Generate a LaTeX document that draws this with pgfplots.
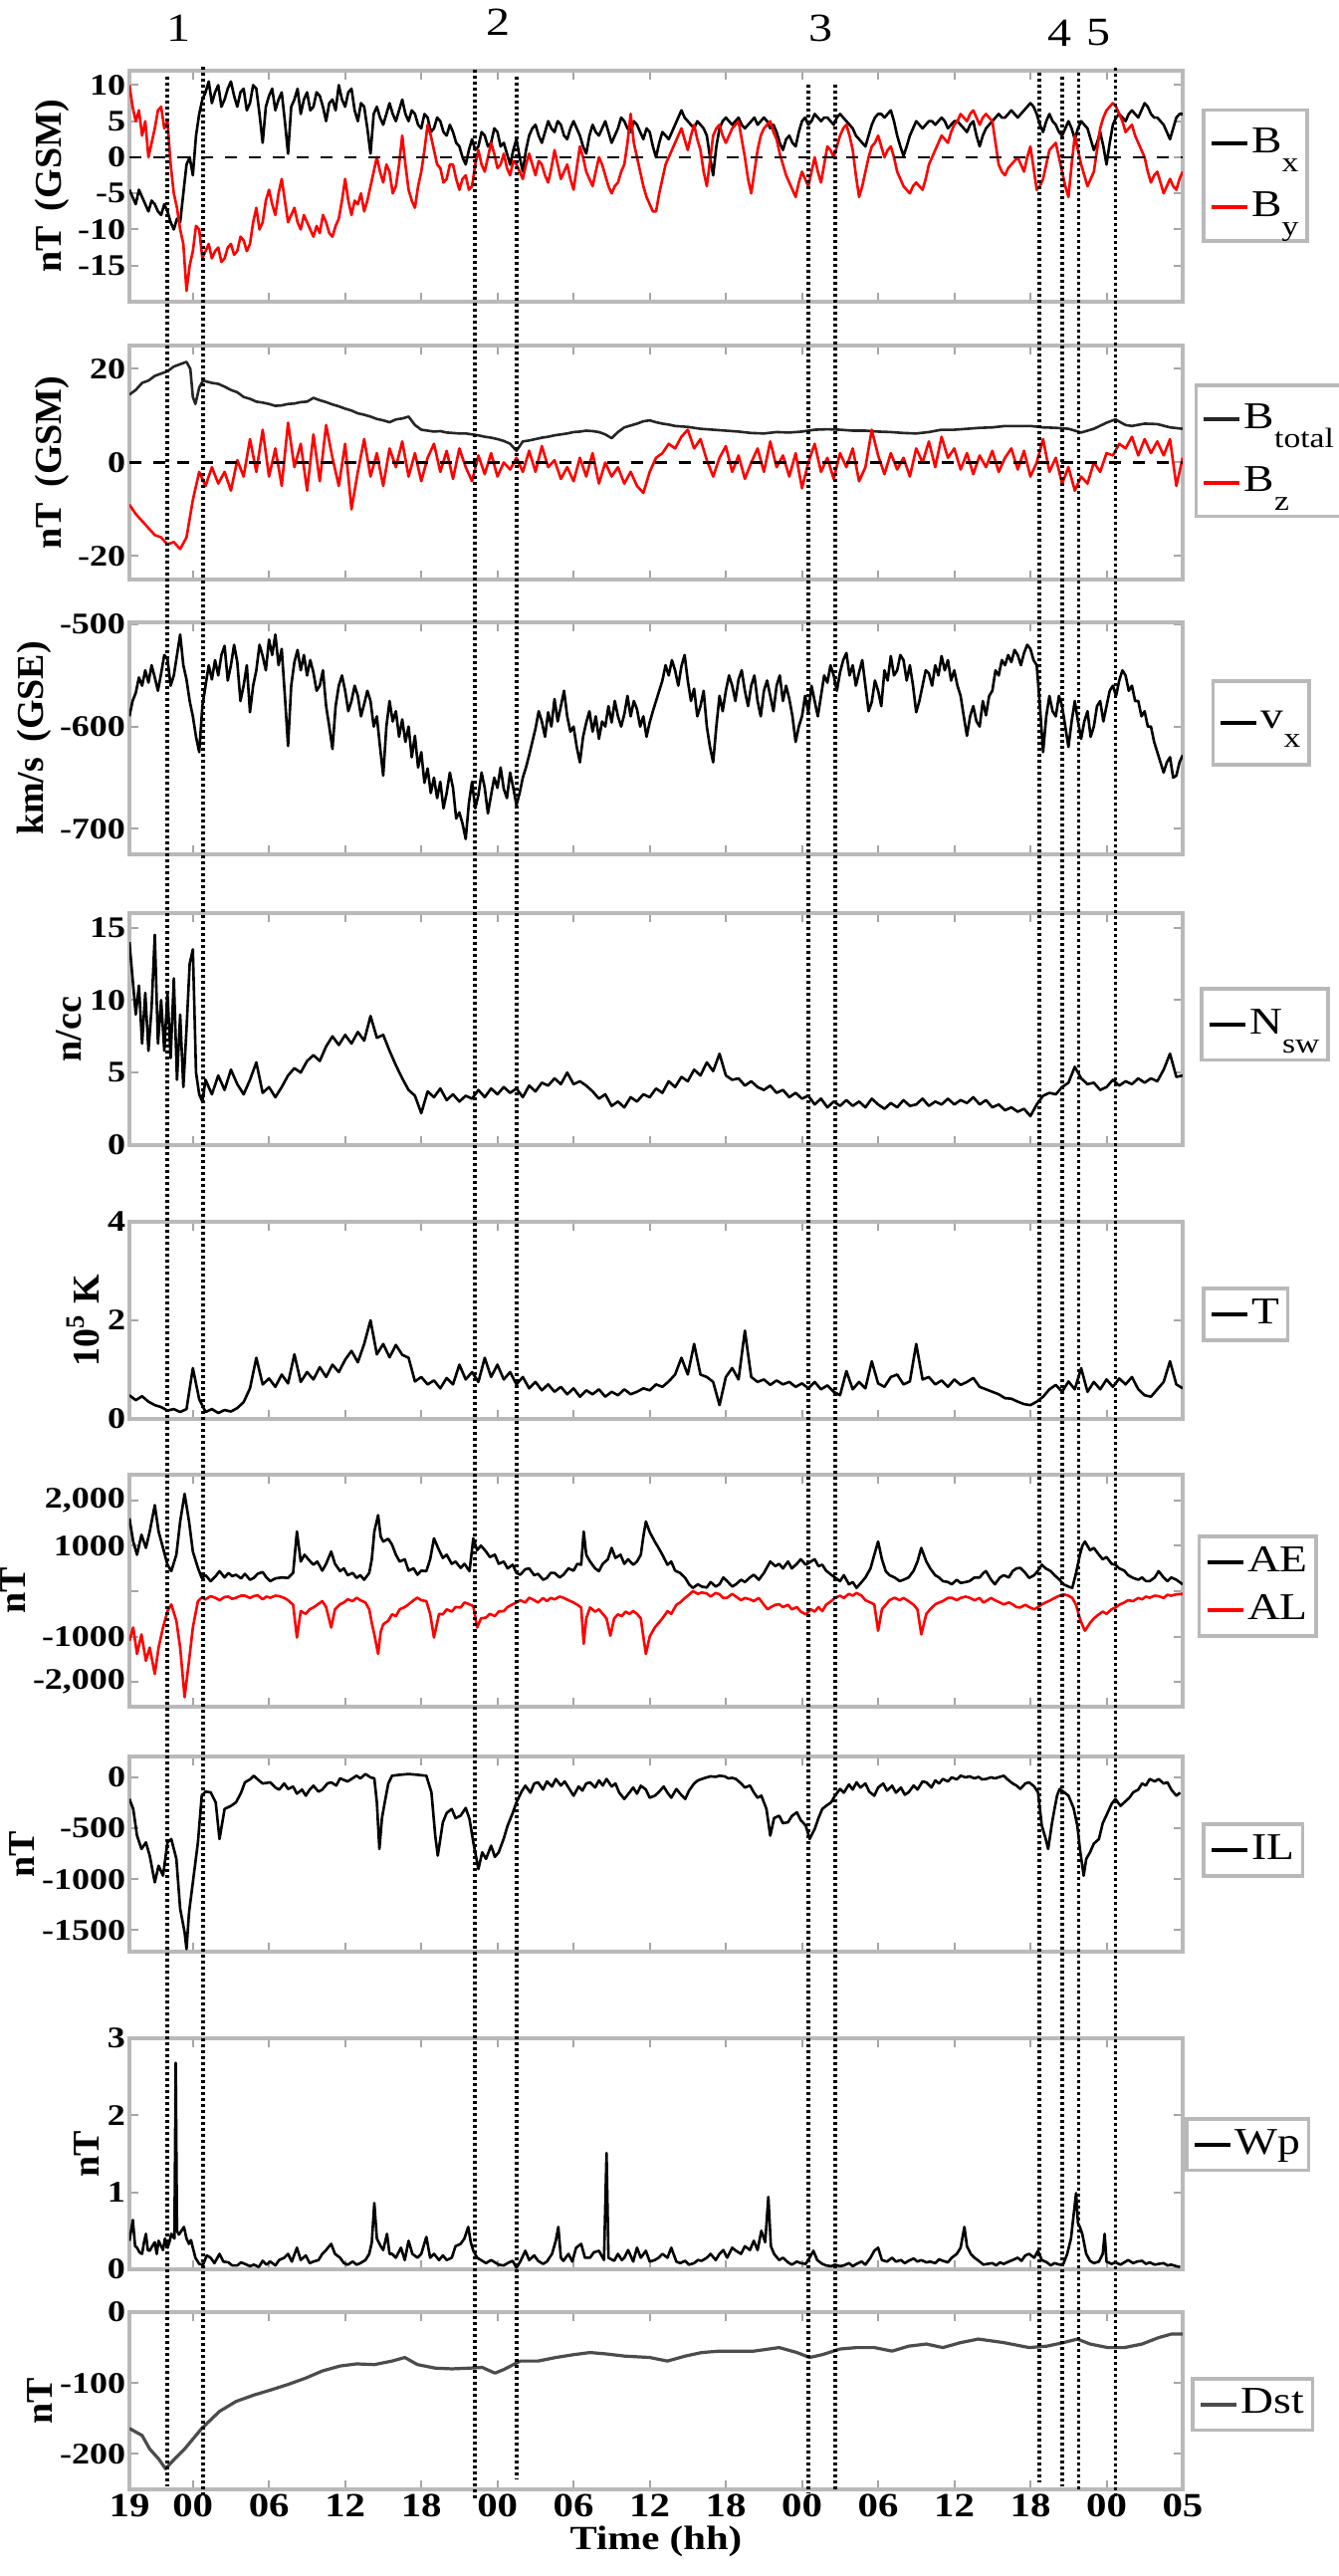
\documentclass[border=0pt]{standalone}
\usepackage{fontspec}
\setmainfont{Liberation Serif}[FakeStretch=1.2]
\newfontfamily\ylabfont{Liberation Serif}
\usepackage{pgfplots}
\usepackage{pgfplotstable}
\pgfplotsset{compat=1.18}
\newcommand{\lsub}[1]{\raisebox{-0.5em}{\fontsize{7}{7}\selectfont #1}}

\pgfplotstableread[row sep=\\]{
t bx by\\
0 -4.5 10\\ 0.25 -5.5 7\\ 0.5 -6.5 5\\ 0.75 -4.5 6.5\\ 1 -5.5 3\\ 1.25 -6.5 5\\ 1.5 -7.5 0\\ 1.75 -6 2\\ 2 -6.5 4\\ 2.25 -7.5 6.5\\ 2.5 -8 7\\ 2.75 -6.5 4\\
3 -7.5 5\\ 3.25 -9 -1\\ 3.5 -10 -5\\ 3.75 -8.5 -7\\ 4 -9 -10\\ 4.25 -5 -12\\ 4.5 -1 -18.5\\ 4.75 0 -15\\ 5 -2.5 -13\\ 5.25 3 -9.5\\ 5.5 6 -10\\ 5.75 8 -14\\
6 9 -13\\ 6.25 10.5 -12\\ 6.5 7.5 -14\\ 6.75 9 -13\\ 7 10 -12.5\\ 7.25 7 -14.5\\ 7.5 8 -14\\ 7.75 9.5 -12.5\\ 8 10.5 -12\\ 8.25 8.5 -13.5\\ 8.5 7 -13\\ 8.75 9 -11\\
9 9.5 -11.5\\ 9.25 6.5 -13\\ 9.5 7.5 -12\\ 9.75 10 -9\\ 10 9.5 -7\\ 10.25 6 -10\\ 10.5 2 -9\\ 10.75 7 -6\\ 11 8.5 -4.5\\ 11.25 9.5 -6.5\\ 11.5 6.5 -8\\ 11.75 8 -5\\
12 9 -3\\ 12.25 5 -6\\ 12.5 0.5 -9\\ 12.75 7 -8\\ 13 8 -7\\ 13.25 9.5 -9\\ 13.5 6 -10\\ 13.75 8 -8\\ 14 9 -9\\ 14.25 6.5 -10\\ 14.5 7 -11\\ 14.75 9 -9.5\\
15 8.5 -10.5\\ 15.25 7 -8\\ 15.5 5 -9\\ 15.75 7.5 -10.5\\ 16 8 -11\\ 16.25 6.5 -9.5\\ 16.5 10 -8.5\\ 16.75 8 -6\\ 17 7 -3\\ 17.25 9 -6\\ 17.5 9.5 -8\\ 17.75 6.5 -6\\
18 5 -6.5\\ 18.25 7.5 -5\\ 18.5 7 -7.5\\ 18.75 4 -6\\ 19 0.5 -4\\ 19.25 6 -2\\ 19.5 7 0\\ 19.75 5.5 -2\\ 20 4.5 -3.5\\ 20.25 6 -1\\ 20.5 7.5 -2\\ 20.75 6 -5\\
21 5 -4\\ 21.25 6.5 -1\\ 21.5 8 3\\ 21.75 6 -1\\ 22 5 -4.5\\ 22.25 6.5 -6\\ 22.5 6 -7\\ 22.75 4.5 -4\\ 23 4 -2\\ 23.25 6 1\\ 23.5 5.5 4.5\\ 23.75 3.5 3\\
24 4 1\\ 24.25 5.5 -1\\ 24.5 5 -1.5\\ 24.75 3.5 -3.5\\ 25 3 -3\\ 25.25 4.5 -1\\ 25.5 3.5 -1\\ 25.75 2 -3\\ 26 1.5 -4.5\\ 26.25 0 -3\\ 26.5 -1 -2.5\\ 26.75 1 -4.5\\
27 2.5 -4\\ 27.25 1 -1\\ 27.5 1.5 1\\ 27.75 3.5 -1\\ 28 3 -2\\ 28.25 1.5 0\\ 28.5 2 2\\ 28.75 4 0.5\\ 29 3.5 -1.5\\ 29.25 1.5 -1\\ 29.5 2 0.5\\ 29.75 0.5 -1.5\\
30 -1 -2.5\\ 30.25 1 -0.5\\ 30.5 2.5 -1\\ 30.75 0 -2\\ 31 -2 -3\\ 31.25 1 -1\\ 31.5 3 0.5\\ 31.75 4 -1\\ 32 4.5 -2.5\\ 32.25 3 -0.5\\ 32.5 2 -1\\ 32.75 3.5 -2.5\\
33 5 -3.5\\ 33.25 4 -1.5\\ 33.5 3.5 1\\ 33.75 5 -1\\ 34 4.5 -3\\ 34.25 3 -2\\ 34.5 2.5 -1\\ 34.75 4 -3\\ 35 5 -4.5\\ 35.25 4 -1.5\\ 35.5 3 1.5\\ 35.75 1.5 0\\
36 0.5 -2\\ 36.25 3 -3\\ 36.5 4.5 -4\\ 36.75 3.5 -2\\ 37 3 0\\ 37.25 4 -1\\ 37.5 5 -2.5\\ 37.75 3.5 -4\\ 38 2 -5\\ 38.25 3 -4\\ 38.5 4 -3.5\\ 38.75 5.5 -2\\
39 5 -1\\ 39.25 4 2\\ 39.5 3.5 6\\ 39.75 5 2\\ 40 4.5 0\\ 40.25 3.5 -2\\ 40.5 2.5 -4\\ 40.75 4 -5.5\\ 41 3.5 -6.5\\ 41.25 1.5 -7.5\\ 41.5 0 -7.5\\ 41.75 2 -5\\
42 3.5 -3\\ 42.25 3 -1\\ 42.5 2.5 0\\ 42.75 3.5 1\\ 43 4.5 2\\ 43.25 5.5 3\\ 43.5 6.5 4\\ 43.75 5.5 2.5\\ 44 5 1\\ 44.25 4.5 3\\ 44.5 4 4.5\\ 44.75 5 2.5\\
45 4.5 1\\ 45.25 4 -2\\ 45.5 3 -4\\ 45.75 0 -0.5\\ 46 -2.5 3\\ 46.25 1.5 4\\ 46.5 4 4.5\\ 46.75 5 3\\ 47 5.5 2\\ 47.25 5 3\\ 47.5 4.5 4\\ 47.75 5 4.5\\
48 5.5 5\\ 48.25 4.5 2.5\\ 48.5 4 0\\ 48.75 4.5 -3\\ 49 5 -5\\ 49.25 5.5 -2\\ 49.5 4.5 1\\ 49.75 5 3\\ 50 5.5 4\\ 50.25 5 4.5\\ 50.5 4 5\\ 50.75 4.5 3.5\\
51 3.5 2.5\\ 51.25 2 0.5\\ 51.5 1 -1\\ 51.75 2.5 -2.5\\ 52 3 -3.5\\ 52.25 2 -4.5\\ 52.5 1.5 -5.5\\ 52.75 3.5 -3.5\\ 53 5 -2\\ 53.25 5.5 -3\\ 53.5 4.5 -4\\ 53.75 5 -2\\
54 6 0\\ 54.25 5.5 -2\\ 54.5 5 -3.5\\ 54.75 5.5 -1\\ 55 5.5 1.5\\ 55.25 5 1\\ 55.5 4.5 0\\ 55.75 5.5 1.5\\ 56 6 3\\ 56.25 5.5 4\\ 56.5 5 4.5\\ 56.75 4.5 3\\
57 4 1\\ 57.25 3 -2.5\\ 57.5 2.5 -5.5\\ 57.75 2 -4\\ 58 1.5 -2\\ 58.25 3 0\\ 58.5 4.5 1.5\\ 58.75 5.5 2\\ 59 6 3\\ 59.25 6 1.5\\ 59.5 5.5 0\\ 59.75 6 1\\
60 6.5 1.5\\ 60.25 5 0\\ 60.5 3 -2\\ 60.75 1.5 -3\\ 61 0.2 -4\\ 61.25 1.5 -4.5\\ 61.5 3 -5\\ 61.75 4 -4\\ 62 5 -3.5\\ 62.25 4.5 -4\\ 62.5 4 -4.5\\ 62.75 4.5 -3\\
63 5 -1\\ 63.25 5 0\\ 63.5 4.5 1\\ 63.75 5 2\\ 64 5.5 3\\ 64.25 5 2.5\\ 64.5 4 2\\ 64.75 4.5 3.5\\ 65 5 4.5\\ 65.25 5 5\\ 65.5 4.5 6\\ 65.75 4 5.5\\
66 3.5 5\\ 66.25 4.5 6\\ 66.5 5 6.5\\ 66.75 3 5.5\\ 67 1.5 4.5\\ 67.25 3 5.5\\ 67.5 4 6\\ 67.75 4.5 5.5\\ 68 5 5\\ 68.25 5.5 2\\ 68.5 6 -1\\ 68.75 5.5 -2\\
69 5.5 -2.5\\ 69.25 6 -1.5\\ 69.5 6.5 -1\\ 69.75 6 -0.5\\ 70 5.5 0\\ 70.25 6 -1\\ 70.5 6.5 -2\\ 70.75 7 0\\ 71 7.5 1.5\\ 71.25 7 -1.5\\ 71.5 6 -4.5\\ 71.75 4.5 -4\\
72 3.5 -3\\ 72.25 5 -1\\ 72.5 6 1\\ 72.75 5 1.5\\ 73 4.5 2\\ 73.25 3.5 0\\ 73.5 3 -2\\ 73.75 4 -4\\ 74 5 -5.5\\ 74.25 4 -1\\ 74.5 2.5 3\\ 74.75 4 1\\
75 5 -1\\ 75.25 4.5 -2.5\\ 75.5 4 -4\\ 75.75 2.5 -3\\ 76 1 -2\\ 76.25 2 1\\ 76.5 3.5 4\\ 76.75 1.5 5.5\\ 77 -1 6.5\\ 77.25 2 7\\ 77.5 4.5 7.5\\ 77.75 5.5 7\\
78 6 6\\ 78.25 5.5 5\\ 78.5 5 3.5\\ 78.75 6 4\\ 79 6.5 4.5\\ 79.25 6 3\\ 79.5 5.5 2\\ 79.75 6.5 1\\ 80 7.5 0\\ 80.25 7 -2\\ 80.5 6 -3.5\\ 80.75 5.5 -2.5\\
81 5.5 -2\\ 81.25 5 -3.5\\ 81.5 4.5 -5\\ 81.75 3.5 -4\\ 82 2.5 -3\\ 82.25 4 -4\\ 82.5 5.5 -4.5\\ 82.75 6 -3\\ 83 6 -2\\
}\tabA

\pgfplotstableread[row sep=\\]{
t v\\
0 -9\\ 0.5 -11\\ 1 -12.5\\ 1.5 -14\\ 2 -15.5\\ 2.5 -16\\ 3 -17.5\\ 3.5 -17\\ 4 -18.5\\ 4.5 -16\\ 5 -8\\ 5.5 -2\\
6 -5\\ 6.5 -1\\ 7 -4.5\\ 7.5 -2\\ 8 -6\\ 8.5 0.5\\ 9 -3\\ 9.5 5\\ 10 -2\\ 10.5 7\\ 11 -3\\ 11.5 3\\
12 -5\\ 12.5 8.5\\ 13 -1\\ 13.5 4\\ 14 -6\\ 14.5 6\\ 15 -4\\ 15.5 8\\ 16 1\\ 16.5 -5\\ 17 4\\ 17.5 -10\\
18 -2\\ 18.5 5\\ 19 -3\\ 19.5 2\\ 20 -5\\ 20.5 3\\ 21 -1\\ 21.5 4.5\\ 22 -3\\ 22.5 2\\ 23 -4\\ 23.5 1\\
24 4\\ 24.5 -2\\ 25 2.5\\ 25.5 -3.5\\ 26 3\\ 26.5 -1\\ 27 -4\\ 27.5 1.5\\ 28 -2.5\\ 28.5 2\\ 29 -3\\ 29.5 0\\
30 -1.5\\ 30.5 1\\ 31 -2\\ 31.5 2.5\\ 32 -2\\ 32.5 3.5\\ 33 -1\\ 33.5 0.5\\ 34 -3.5\\ 34.5 -1\\ 35 -4\\ 35.5 1\\
36 -3\\ 36.5 2\\ 37 -4.5\\ 37.5 0\\ 38 -3\\ 38.5 -1\\ 39 -4.5\\ 39.5 -2\\ 40 -5\\ 40.5 -6.5\\ 41 -2\\ 41.5 1\\
42 2\\ 42.5 4\\ 43 3\\ 43.5 5.5\\ 44 7\\ 44.5 3\\ 45 5\\ 45.5 0.5\\ 46 -3\\ 46.5 1\\ 47 3.5\\ 47.5 -2\\
48 1.5\\ 48.5 -3.5\\ 49 0\\ 49.5 3\\ 50 -2\\ 50.5 4.5\\ 51 -1\\ 51.5 1.5\\ 52 -3\\ 52.5 2\\ 53 -5.5\\ 53.5 0\\
54 4\\ 54.5 -2\\ 55 1\\ 55.5 -3.5\\ 56 2\\ 56.5 -1\\ 57 3\\ 57.5 -4\\ 58 -1\\ 58.5 7\\ 59 1.5\\ 59.5 -2.5\\
60 2\\ 60.5 -1.5\\ 61 1\\ 61.5 -3\\ 62 3\\ 62.5 0\\ 63 4.5\\ 63.5 -1\\ 64 5.5\\ 64.5 1\\ 65 3\\ 65.5 -1.5\\
66 2\\ 66.5 -2.5\\ 67 1.5\\ 67.5 -1\\ 68 2.5\\ 68.5 -2\\ 69 1\\ 69.5 3\\ 70 -1.5\\ 70.5 2.5\\ 71 -3\\ 71.5 0\\
72 5\\ 72.5 -2\\ 73 1\\ 73.5 -4.5\\ 74 -1\\ 74.5 -6\\ 75 -3\\ 75.5 -4.5\\ 76 0\\ 76.5 -2\\ 77 2\\ 77.5 1.5\\
78 4\\ 78.5 3\\ 79 5.5\\ 79.5 1.5\\ 80 5\\ 80.5 2\\ 81 4.5\\ 81.5 1.5\\ 82 5\\ 82.5 -5\\ 83 1\\
}\tabBz

\pgfplotstableread[row sep=\\]{
t v\\
0 14.5\\ 0.5 15.5\\ 1 17\\ 1.5 17.5\\ 2 18.5\\ 2.5 19\\ 3 19.5\\ 3.5 20.5\\ 4 21\\ 4.5 21.5\\ 4.8 20\\ 5.0 14\\ 5.2 12.5\\ 5.5 16\\ 5.8 17.5\\
6.5 17\\ 7 16.8\\ 7.5 16.2\\ 8 15.5\\ 8.5 15\\ 9 14\\ 9.5 13.6\\ 10 13\\ 10.5 12.8\\ 11 12.5\\ 11.5 12.1\\ 12 12.2\\ 12.5 12.5\\ 13 12.6\\ 13.5 12.9\\ 14 13\\ 14.5 13.8\\ 15 13.3\\ 15.5 12.9\\ 16 12.4\\ 16.5 12\\ 17 11.5\\ 17.5 11.1\\ 18 10.5\\ 18.5 10.2\\ 19 9.8\\ 19.5 9.3\\ 20 9\\ 20.5 8.6\\ 21 9.2\\ 21.5 9.4\\ 22 9.8\\ 22.5 8\\ 23 7\\ 23.5 6.8\\ 24 6.6\\ 24.5 6.7\\ 25 6.4\\ 25.5 6.3\\ 26 6.2\\ 26.5 6.2\\ 27 6\\ 27.5 5.8\\ 28 5.5\\ 28.5 5.3\\ 29 5\\ 29.5 4.6\\ 30 4\\ 30.5 2.5\\ 31 4.5\\ 31.5 4.7\\ 32 5\\ 32.5 5.3\\ 33 5.5\\ 33.5 5.8\\ 34 6\\ 34.5 6.2\\ 35 6.5\\ 35.5 6.6\\ 36 6.8\\ 36.5 6.7\\ 37 6.5\\ 37.5 6\\ 38 5.2\\ 38.5 6.5\\ 39 7.5\\ 39.5 7.9\\ 40 8.3\\ 40.5 8.8\\ 41 9\\ 41.5 8.6\\ 42 8.3\\ 42.5 8.1\\ 43 7.8\\ 43.5 7.7\\ 44 7.6\\ 44.5 7.4\\ 45 7.2\\ 45.5 7.1\\ 46 7\\ 47 6.8\\ 48 6.6\\ 49 6.3\\ 50 6.2\\ 51 6.5\\ 52 6.4\\ 53 6.6\\ 54 7\\ 55 7.1\\ 56 7\\ 57 6.8\\ 58 6.8\\ 59 6.6\\ 60 6.5\\ 61 6.3\\ 62 6.2\\ 63 6.5\\ 64 7\\ 65 7\\ 66 7.2\\ 67 7.4\\ 68 7.5\\ 69 7.8\\ 70 7.8\\ 71 7.8\\ 72 7.5\\ 73 7.4\\ 74 7.2\\ 75 6.4\\ 76 7.2\\ 77 8.5\\ 77.7 9.2\\ 78.5 8\\ 79 7.8\\ 80 8.3\\ 81 8.2\\ 82 7.5\\ 83 7.2\\
}\tabBt

\pgfplotstableread[row sep=\\]{
t v\\
0 -590\\ 0.25 -575\\ 0.5 -567\\ 0.75 -552\\ 1 -560\\ 1.25 -545\\ 1.5 -557\\ 1.75 -540\\ 2 -552\\ 2.25 -565\\ 2.5 -548\\ 2.75 -530\\
3 -534\\ 3.25 -560\\ 3.5 -550\\ 3.75 -530\\ 4 -510\\ 4.25 -540\\ 4.5 -554\\ 4.75 -575\\ 5 -590\\ 5.25 -610\\ 5.5 -625\\ 5.75 -580\\
6 -560\\ 6.25 -540\\ 6.5 -554\\ 6.75 -535\\ 7 -550\\ 7.25 -530\\ 7.5 -521\\ 7.75 -555\\ 8 -540\\ 8.25 -520\\ 8.5 -537\\ 8.75 -575\\
9 -560\\ 9.25 -540\\ 9.5 -586\\ 9.75 -560\\ 10 -545\\ 10.25 -520\\ 10.5 -531\\ 10.75 -545\\ 11 -515\\ 11.25 -530\\ 11.5 -510\\ 11.75 -540\\
12 -524\\ 12.25 -570\\ 12.5 -619\\ 12.75 -560\\ 13 -537\\ 13.25 -525\\ 13.5 -545\\ 13.75 -530\\ 14 -550\\ 14.25 -535\\ 14.5 -547\\ 14.75 -565\\
15 -560\\ 15.25 -545\\ 15.5 -580\\ 15.75 -600\\ 16 -622\\ 16.25 -580\\ 16.5 -560\\ 16.75 -550\\ 17 -565\\ 17.25 -585\\ 17.5 -575\\ 17.75 -560\\
18 -570\\ 18.25 -590\\ 18.5 -578\\ 18.75 -565\\ 19 -575\\ 19.25 -600\\ 19.5 -590\\ 19.75 -620\\ 20 -648\\ 20.25 -600\\ 20.5 -575\\ 20.75 -595\\
21 -585\\ 21.25 -610\\ 21.5 -593\\ 21.75 -615\\ 22 -600\\ 22.25 -630\\ 22.5 -609\\ 22.75 -640\\ 23 -625\\ 23.25 -655\\ 23.5 -641\\ 23.75 -665\\
24 -650\\ 24.25 -670\\ 24.5 -654\\ 24.75 -680\\ 25 -665\\ 25.25 -645\\ 25.5 -660\\ 25.75 -690\\ 26 -684\\ 26.25 -695\\ 26.5 -710\\ 26.75 -675\\
27 -654\\ 27.25 -680\\ 27.5 -667\\ 27.75 -645\\ 28 -660\\ 28.25 -685\\ 28.5 -667\\ 28.75 -650\\ 29 -660\\ 29.25 -640\\ 29.5 -661\\ 29.75 -670\\
30 -645\\ 30.25 -660\\ 30.5 -677\\ 30.75 -665\\ 31 -650\\ 31.25 -640\\ 31.5 -628\\ 31.75 -615\\ 32 -602\\ 32.25 -585\\ 32.5 -595\\ 32.75 -610\\
33 -586\\ 33.25 -600\\ 33.5 -573\\ 33.75 -595\\ 34 -580\\ 34.25 -565\\ 34.5 -590\\ 34.75 -605\\ 35 -600\\ 35.25 -620\\ 35.5 -635\\ 35.75 -610\\
36 -596\\ 36.25 -585\\ 36.5 -605\\ 36.75 -590\\ 37 -612\\ 37.25 -595\\ 37.5 -600\\ 37.75 -580\\ 38 -596\\ 38.25 -575\\ 38.5 -590\\ 38.75 -600\\
39 -588\\ 39.25 -570\\ 39.5 -590\\ 39.75 -575\\ 40 -583\\ 40.25 -600\\ 40.5 -590\\ 40.75 -610\\ 41 -596\\ 41.25 -585\\ 41.5 -575\\ 41.75 -565\\
42 -555\\ 42.25 -540\\ 42.5 -550\\ 42.75 -535\\ 43 -545\\ 43.25 -560\\ 43.5 -541\\ 43.75 -530\\ 44 -555\\ 44.25 -575\\ 44.5 -563\\ 44.75 -590\\
45 -580\\ 45.25 -565\\ 45.5 -600\\ 45.75 -620\\ 46 -635\\ 46.25 -600\\ 46.5 -570\\ 46.75 -585\\ 47 -565\\ 47.25 -550\\ 47.5 -560\\ 47.75 -575\\
48 -554\\ 48.25 -545\\ 48.5 -565\\ 48.75 -580\\ 49 -560\\ 49.25 -550\\ 49.5 -575\\ 49.75 -590\\ 50 -565\\ 50.25 -555\\ 50.5 -570\\ 50.75 -585\\
51 -560\\ 51.25 -550\\ 51.5 -575\\ 51.75 -560\\ 52 -573\\ 52.25 -590\\ 52.5 -615\\ 52.75 -600\\ 53 -590\\ 53.25 -570\\ 53.5 -586\\ 53.75 -560\\
54 -575\\ 54.25 -590\\ 54.5 -570\\ 54.75 -550\\ 55 -557\\ 55.25 -540\\ 55.5 -550\\ 55.75 -565\\ 56 -547\\ 56.25 -535\\ 56.5 -528\\ 56.75 -550\\
57 -540\\ 57.25 -560\\ 57.5 -547\\ 57.75 -535\\ 58 -560\\ 58.25 -585\\ 58.5 -576\\ 58.75 -555\\ 59 -565\\ 59.25 -580\\ 59.5 -545\\ 59.75 -555\\
60 -531\\ 60.25 -550\\ 60.5 -545\\ 60.75 -530\\ 61 -535\\ 61.25 -555\\ 61.5 -540\\ 61.75 -560\\ 62 -586\\ 62.25 -575\\ 62.5 -560\\ 62.75 -545\\
63 -548\\ 63.25 -560\\ 63.5 -540\\ 63.75 -550\\ 64 -531\\ 64.25 -545\\ 64.5 -535\\ 64.75 -555\\ 65 -545\\ 65.25 -560\\ 65.5 -570\\ 65.75 -590\\
66 -609\\ 66.25 -590\\ 66.5 -580\\ 66.75 -595\\ 67 -600\\ 67.25 -575\\ 67.5 -589\\ 67.75 -570\\ 68 -565\\ 68.25 -545\\ 68.5 -550\\ 68.75 -535\\
69 -540\\ 69.25 -530\\ 69.5 -537\\ 69.75 -525\\ 70 -530\\ 70.25 -540\\ 70.5 -528\\ 70.75 -520\\ 71 -524\\ 71.25 -535\\ 71.5 -540\\ 71.75 -580\\
72 -625\\ 72.25 -590\\ 72.5 -570\\ 72.75 -585\\ 73 -590\\ 73.25 -570\\ 73.5 -580\\ 73.75 -600\\ 74 -620\\ 74.25 -595\\ 74.5 -575\\ 74.75 -595\\
75 -612\\ 75.25 -595\\ 75.5 -585\\ 75.75 -610\\ 76 -600\\ 76.25 -580\\ 76.5 -575\\ 76.75 -595\\ 77 -580\\ 77.25 -565\\ 77.5 -560\\ 77.75 -570\\
78 -555\\ 78.25 -545\\ 78.5 -550\\ 78.75 -565\\ 79 -560\\ 79.25 -575\\ 79.5 -575\\ 79.75 -590\\ 80 -585\\ 80.25 -600\\ 80.5 -600\\ 80.75 -615\\
81 -625\\ 81.25 -635\\ 81.5 -645\\ 81.75 -635\\ 82 -630\\ 82.25 -650\\ 82.5 -648\\ 82.75 -635\\ 83 -628\\
}\tabV

\pgfplotstableread[row sep=\\]{
t v\\
0 14\\ 0.25 11.5\\ 0.5 9\\ 0.75 11\\ 1.0 7\\ 1.25 10.5\\ 1.5 6.5\\ 1.75 9.5\\ 2.0 14.5\\ 2.25 7\\ 2.5 10\\ 2.75 6.5\\ 3.0 10.5\\ 3.25 6\\ 3.5 11.5\\ 3.75 4.5\\ 4.0 9\\ 4.25 4\\ 4.5 8\\ 4.75 12.5\\ 5.0 13.5\\ 5.25 5\\ 5.5 3.5\\ 5.75 3\\
6 4.5\\ 6.5 3.5\\ 7 4.8\\ 7.5 3.8\\ 8 5.2\\ 8.5 4.2\\ 9 3.5\\ 9.5 4.5\\ 10 5.7\\ 10.5 3.6\\ 11 4\\ 11.5 3.3\\
12 4\\ 12.5 4.8\\ 13 5.3\\ 13.5 5\\ 14 5.8\\ 14.5 6.2\\ 15 5.8\\ 15.5 6.8\\ 16 7.5\\ 16.5 6.9\\ 17 7.6\\ 17.5 7\\
18 7.8\\ 18.5 7.2\\ 19 8.9\\ 19.5 7.4\\ 20 7.6\\ 20.5 6.5\\ 21 5.5\\ 21.5 4.6\\ 22 3.8\\ 22.5 3.4\\ 23 2.2\\ 23.5 3.7\\
24 3.3\\ 24.5 3.9\\ 25 3.1\\ 25.5 3.5\\ 26 3\\ 26.5 3.4\\ 27 3.2\\ 27.5 3.8\\ 28 3.3\\ 28.5 3.9\\ 29 3.5\\ 29.5 4\\
30 3.6\\ 30.5 3.9\\ 31 3.3\\ 31.5 4.1\\ 32 3.7\\ 32.5 4.3\\ 33 4.1\\ 33.5 4.6\\ 34 4.2\\ 34.5 5\\ 35 4.2\\ 35.5 4.4\\
36 4.1\\ 36.5 3.7\\ 37 3.2\\ 37.5 3.5\\ 38 2.7\\ 38.5 3\\ 39 2.6\\ 39.5 3.3\\ 40 3\\ 40.5 3.5\\ 41 3.3\\ 41.5 3.9\\
42 3.6\\ 42.5 4.4\\ 43 4\\ 43.5 4.7\\ 44 4.4\\ 44.5 5.2\\ 45 4.8\\ 45.5 5.7\\ 46 5.1\\ 46.5 6.3\\ 47 4.8\\ 47.5 4.5\\
48 4.6\\ 48.5 4.1\\ 49 4.4\\ 49.5 4\\ 50 3.8\\ 50.5 4.1\\ 51 3.6\\ 51.5 3.8\\ 52 3.3\\ 52.5 3.6\\ 53 3.2\\ 53.5 3.4\\
54 2.8\\ 54.5 3.2\\ 55 2.6\\ 55.5 3\\ 56 2.7\\ 56.5 3.1\\ 57 2.7\\ 57.5 3\\ 58 2.6\\ 58.5 3.2\\ 59 2.8\\ 59.5 2.5\\
60 2.9\\ 60.5 2.6\\ 61 3.1\\ 61.5 2.7\\ 62 2.8\\ 62.5 3.2\\ 63 2.7\\ 63.5 3\\ 64 2.8\\ 64.5 3.2\\ 65 2.8\\ 65.5 3.1\\
66 2.9\\ 66.5 3.3\\ 67 2.8\\ 67.5 3.1\\ 68 2.6\\ 68.5 2.8\\ 69 2.4\\ 69.5 2.6\\ 70 2.3\\ 70.5 2.5\\ 71 2\\ 71.5 2.8\\
72 3.4\\ 72.5 3.6\\ 73 3.5\\ 73.5 4\\ 74 4.3\\ 74.5 5.4\\ 75 4.6\\ 75.5 4.2\\ 76 4.3\\ 76.5 3.8\\ 77 4\\ 77.5 4.5\\
78 4.1\\ 78.5 4.4\\ 79 4.2\\ 79.5 4.6\\ 80 4.3\\ 80.5 4.6\\ 81 4.4\\ 81.5 5.2\\ 82 6.3\\ 82.5 4.7\\ 83 4.8\\
}\tabN

\pgfplotstableread[row sep=\\]{
t v\\
0 0.48\\ 0.5 0.38\\ 1 0.46\\ 1.5 0.35\\ 2 0.28\\ 2.5 0.24\\ 3 0.17\\ 3.5 0.2\\ 4 0.14\\ 4.5 0.2\\ 5 1.03\\ 5.5 0.4\\
6 0.14\\ 6.5 0.2\\ 7 0.12\\ 7.5 0.18\\ 8 0.15\\ 8.5 0.22\\ 9 0.34\\ 9.5 0.62\\ 10 1.24\\ 10.5 0.7\\ 11 0.82\\ 11.5 0.65\\
12 0.9\\ 12.5 0.72\\ 13 1.31\\ 13.5 0.75\\ 14 0.95\\ 14.5 0.8\\ 15 1.05\\ 15.5 0.85\\ 16 1.1\\ 16.5 0.95\\ 17 1.2\\ 17.5 1.38\\
18 1.15\\ 18.5 1.52\\ 19 2.0\\ 19.5 1.31\\ 20 1.52\\ 20.5 1.25\\ 21 1.5\\ 21.5 1.3\\ 22 1.24\\ 22.5 0.76\\ 23 0.85\\ 23.5 0.7\\
24 0.78\\ 24.5 0.62\\ 25 0.83\\ 25.5 0.7\\ 26 1.1\\ 26.5 0.8\\ 27 0.95\\ 27.5 0.75\\ 28 1.24\\ 28.5 0.85\\ 29 1.1\\ 29.5 0.8\\
30 0.95\\ 30.5 0.7\\ 31 0.85\\ 31.5 0.62\\ 32 0.75\\ 32.5 0.58\\ 33 0.7\\ 33.5 0.55\\ 34 0.65\\ 34.5 0.5\\ 35 0.62\\ 35.5 0.45\\
36 0.58\\ 36.5 0.5\\ 37 0.6\\ 37.5 0.45\\ 38 0.55\\ 38.5 0.48\\ 39 0.6\\ 39.5 0.5\\ 40 0.55\\ 40.5 0.62\\ 41 0.58\\ 41.5 0.7\\
42 0.65\\ 42.5 0.76\\ 43 0.9\\ 43.5 1.24\\ 44 0.9\\ 44.5 1.52\\ 45 0.9\\ 45.5 0.85\\ 46 0.75\\ 46.5 0.28\\ 47 0.85\\ 47.5 1.03\\
48 0.8\\ 48.5 1.79\\ 49 0.85\\ 49.5 0.75\\ 50 0.8\\ 50.5 0.69\\ 51 0.78\\ 51.5 0.7\\ 52 0.75\\ 52.5 0.65\\ 53 0.72\\ 53.5 0.62\\
54 0.75\\ 54.5 0.6\\ 55 0.68\\ 55.5 0.55\\ 56 0.48\\ 56.5 0.97\\ 57 0.6\\ 57.5 0.75\\ 58 0.62\\ 58.5 1.17\\ 59 0.72\\ 59.5 0.65\\
60 0.85\\ 60.5 0.9\\ 61 0.7\\ 61.5 0.76\\ 62 1.52\\ 62.5 0.8\\ 63 0.85\\ 63.5 0.7\\ 64 0.78\\ 64.5 0.65\\ 65 0.8\\ 65.5 0.69\\
66 0.75\\ 66.5 0.83\\ 67 0.65\\ 67.5 0.6\\ 68 0.55\\ 68.5 0.5\\ 69 0.42\\ 69.5 0.41\\ 70 0.35\\ 70.5 0.3\\ 71 0.28\\ 71.5 0.35\\
72 0.45\\ 72.5 0.6\\ 73 0.69\\ 73.5 0.55\\ 74 0.76\\ 74.5 0.6\\ 75 1.03\\ 75.5 0.55\\ 76 0.75\\ 76.5 0.6\\ 77 0.8\\ 77.5 0.65\\
78 0.82\\ 78.5 0.7\\ 79 0.85\\ 79.5 0.6\\ 80 0.48\\ 80.5 0.45\\ 81 0.6\\ 81.5 0.75\\ 82 1.17\\ 82.5 0.7\\ 83 0.62\\
}\tabT

\pgfplotstableread[row sep=\\]{
t v\\
0 1600\\ 0.3 1090\\ 0.6 800\\ 0.95 1240\\ 1.3 950\\ 1.6 1310\\ 2.0 1890\\ 2.3 1310\\ 2.65 950\\ 3.0 580\\ 3.3 440\\ 3.7 800\\ 4.0 1530\\ 4.35 2140\\ 4.7 1530\\ 5.0 870\\ 5.4 510\\ 5.7 290\\
6.0 350\\ 6.4 220\\ 6.8 330\\ 7.1 440\\ 7.5 300\\ 7.8 400\\ 8.1 330\\ 8.4 360\\ 8.8 280\\ 9.1 380\\ 9.5 250\\ 9.8 290\\ 10.1 380\\ 10.5 420\\ 10.8 300\\ 11.1 220\\ 11.5 280\\ 12.0 300\\ 12.5 290\\ 12.9 400\\ 13.2 1310\\ 13.5 650\\ 13.8 800\\ 14.1 700\\ 14.5 580\\ 14.8 650\\ 15.2 450\\ 15.5 600\\ 15.9 870\\ 16.2 600\\ 16.6 440\\ 16.9 500\\ 17.2 350\\ 17.6 400\\ 17.9 290\\ 18.2 350\\ 18.5 250\\ 18.9 400\\ 19.1 700\\ 19.3 1310\\ 19.6 1670\\ 19.8 1200\\ 20.0 1090\\ 20.4 1150\\ 20.7 1020\\ 21.0 800\\ 21.3 650\\ 21.7 700\\ 22.0 450\\ 22.4 500\\ 22.7 360\\ 23.0 450\\ 23.4 440\\ 23.7 700\\ 24.0 1160\\ 24.4 900\\ 24.7 730\\ 25.0 800\\ 25.4 600\\ 25.7 650\\ 26.1 510\\ 26.4 600\\ 26.8 440\\ 27.1 1160\\ 27.4 900\\ 27.7 1000\\ 28.1 870\\ 28.4 750\\ 28.8 800\\ 29.1 600\\ 29.5 650\\ 29.8 500\\ 30.2 580\\ 30.5 400\\ 30.8 360\\ 31.2 480\\ 31.5 500\\ 31.9 350\\ 32.2 380\\ 32.6 250\\ 32.9 290\\ 33.2 400\\ 33.5 400\\ 33.9 300\\ 34.2 360\\ 34.6 500\\ 35.0 450\\ 35.3 600\\ 35.6 580\\ 35.8 1310\\ 36.0 800\\ 36.3 650\\ 36.7 500\\ 37.0 440\\ 37.3 600\\ 37.7 700\\ 38.0 950\\ 38.3 730\\ 38.7 800\\ 39.0 600\\ 39.3 700\\ 39.7 580\\ 40.0 650\\ 40.3 800\\ 40.5 1200\\ 40.7 1530\\ 41.0 1300\\ 41.4 1090\\ 41.7 950\\ 42.0 800\\ 42.4 580\\ 42.7 650\\ 43.0 450\\ 43.4 400\\ 43.8 290\\ 44.1 150\\ 44.4 70\\ 44.8 150\\ 45.1 100\\ 45.5 80\\ 45.8 200\\ 46.2 100\\ 46.5 150\\ 46.8 300\\ 47.1 220\\ 47.5 100\\ 47.8 150\\ 48.2 250\\ 48.5 200\\ 48.9 300\\ 49.2 360\\ 49.6 250\\ 50.0 400\\ 50.3 550\\ 50.5 650\\ 50.9 550\\ 51.2 600\\ 51.5 500\\ 51.9 650\\ 52.2 500\\ 52.6 600\\ 52.9 700\\ 53.3 580\\ 53.7 650\\ 54.0 700\\ 54.3 550\\ 54.6 580\\ 54.9 450\\ 55.3 360\\ 55.6 300\\ 56.0 220\\ 56.3 350\\ 56.7 150\\ 57.0 200\\ 57.3 70\\ 57.7 200\\ 58.0 300\\ 58.4 500\\ 58.7 800\\ 59.0 1090\\ 59.3 700\\ 59.6 440\\ 59.9 350\\ 60.3 300\\ 60.7 220\\ 61.0 250\\ 61.4 300\\ 61.8 450\\ 62.1 650\\ 62.4 950\\ 62.8 650\\ 63.1 500\\ 63.5 350\\ 63.8 300\\ 64.1 220\\ 64.5 200\\ 64.8 150\\ 65.2 250\\ 65.5 180\\ 65.9 200\\ 66.2 220\\ 66.6 300\\ 67.0 300\\ 67.3 400\\ 67.5 440\\ 67.9 250\\ 68.2 150\\ 68.6 300\\ 68.9 350\\ 69.3 300\\ 69.6 440\\ 69.9 500\\ 70.2 510\\ 70.6 400\\ 70.9 290\\ 71.3 350\\ 71.6 450\\ 71.9 580\\ 72.2 500\\ 72.6 440\\ 72.9 350\\ 73.3 250\\ 73.6 150\\ 74.0 100\\ 74.3 70\\ 74.6 400\\ 74.9 800\\ 75.1 1000\\ 75.3 1090\\ 75.7 900\\ 76.0 950\\ 76.4 800\\ 76.7 700\\ 77.0 750\\ 77.4 600\\ 77.7 580\\ 78.0 500\\ 78.4 450\\ 78.7 350\\ 79.1 290\\ 79.5 250\\ 79.8 300\\ 80.1 220\\ 80.4 220\\ 80.8 300\\ 81.1 440\\ 81.5 300\\ 81.8 220\\ 82.1 300\\ 82.5 250\\ 83.0 150\\
}\tabAE

\pgfplotstableread[row sep=\\]{
t v\\
0 -1090\\ 0.3 -800\\ 0.6 -1380\\ 0.95 -950\\ 1.3 -1530\\ 1.6 -1240\\ 2.0 -1820\\ 2.3 -1240\\ 2.65 -800\\ 3.0 -440\\ 3.3 -290\\ 3.7 -650\\ 4.0 -1240\\ 4.35 -2330\\ 4.7 -1530\\ 5.0 -800\\ 5.4 -220\\ 5.7 -145\\
6.0 -180\\ 6.4 -110\\ 6.8 -150\\ 7.1 -200\\ 7.5 -130\\ 7.8 -120\\ 8.1 -170\\ 8.4 -145\\ 8.8 -100\\ 9.1 -100\\ 9.5 -150\\ 9.8 -110\\ 10.1 -90\\ 10.5 -180\\ 10.8 -120\\ 11.1 -145\\ 11.5 -100\\ 11.8 -110\\ 12.2 -150\\ 12.5 -200\\ 12.9 -300\\ 13.2 -1020\\ 13.5 -440\\ 13.9 -500\\ 14.2 -400\\ 14.5 -360\\ 14.8 -300\\ 15.2 -220\\ 15.5 -350\\ 15.9 -800\\ 16.2 -400\\ 16.6 -290\\ 16.9 -250\\ 17.2 -180\\ 17.6 -220\\ 17.9 -145\\ 18.2 -200\\ 18.6 -250\\ 18.9 -400\\ 19.1 -700\\ 19.3 -950\\ 19.6 -1380\\ 19.8 -900\\ 20.0 -730\\ 20.4 -650\\ 20.7 -510\\ 21.0 -550\\ 21.3 -400\\ 21.7 -350\\ 22.0 -290\\ 22.4 -200\\ 22.7 -145\\ 23.0 -200\\ 23.4 -220\\ 23.7 -500\\ 24.0 -1020\\ 24.4 -500\\ 24.7 -510\\ 25.0 -400\\ 25.4 -450\\ 25.7 -350\\ 26.1 -360\\ 26.4 -250\\ 26.8 -290\\ 27.1 -330\\ 27.4 -800\\ 27.7 -600\\ 28.1 -580\\ 28.4 -500\\ 28.8 -550\\ 29.1 -450\\ 29.5 -440\\ 29.8 -350\\ 30.2 -290\\ 30.5 -250\\ 30.8 -200\\ 31.2 -250\\ 31.5 -145\\ 31.9 -200\\ 32.2 -250\\ 32.6 -150\\ 32.9 -220\\ 33.2 -150\\ 33.5 -180\\ 33.9 -120\\ 34.2 -145\\ 34.6 -200\\ 35.0 -250\\ 35.3 -300\\ 35.6 -360\\ 35.8 -1160\\ 36.0 -600\\ 36.3 -360\\ 36.7 -450\\ 37.0 -400\\ 37.3 -500\\ 37.6 -600\\ 37.9 -980\\ 38.2 -600\\ 38.5 -510\\ 38.8 -550\\ 39.1 -450\\ 39.4 -500\\ 39.7 -440\\ 40.0 -500\\ 40.3 -600\\ 40.5 -1000\\ 40.7 -1380\\ 41.0 -1000\\ 41.4 -800\\ 41.7 -700\\ 42.0 -600\\ 42.4 -440\\ 42.7 -500\\ 43.1 -300\\ 43.4 -250\\ 43.8 -145\\ 44.1 -80\\ 44.4 0\\ 44.8 -60\\ 45.1 -30\\ 45.5 -50\\ 45.8 -120\\ 46.2 -40\\ 46.5 -70\\ 46.8 -150\\ 47.1 -145\\ 47.5 -60\\ 47.8 -120\\ 48.2 -200\\ 48.5 -150\\ 48.9 -180\\ 49.2 -220\\ 49.6 -150\\ 50.0 -300\\ 50.3 -400\\ 50.5 -360\\ 50.9 -300\\ 51.2 -290\\ 51.5 -350\\ 51.9 -300\\ 52.2 -400\\ 52.6 -350\\ 52.9 -450\\ 53.3 -510\\ 53.7 -400\\ 54.0 -450\\ 54.3 -350\\ 54.6 -440\\ 54.9 -300\\ 55.3 -220\\ 55.6 -150\\ 56.0 -100\\ 56.3 -150\\ 56.7 -60\\ 57.0 -100\\ 57.3 -40\\ 57.7 -100\\ 58.0 -200\\ 58.4 -250\\ 58.7 -290\\ 59.0 -870\\ 59.3 -400\\ 59.6 -300\\ 59.9 -200\\ 60.3 -145\\ 60.7 -200\\ 61.0 -150\\ 61.4 -220\\ 61.8 -300\\ 62.1 -400\\ 62.4 -950\\ 62.8 -500\\ 63.1 -400\\ 63.5 -290\\ 63.8 -250\\ 64.1 -220\\ 64.5 -150\\ 64.8 -145\\ 65.2 -200\\ 65.5 -150\\ 65.9 -120\\ 66.2 -145\\ 66.6 -200\\ 67.0 -150\\ 67.3 -250\\ 67.5 -220\\ 67.9 -150\\ 68.2 -200\\ 68.6 -250\\ 68.9 -290\\ 69.3 -250\\ 69.6 -290\\ 69.9 -350\\ 70.2 -360\\ 70.6 -300\\ 70.9 -350\\ 71.3 -400\\ 71.6 -350\\ 71.9 -290\\ 72.2 -250\\ 72.6 -200\\ 72.9 -150\\ 73.3 -100\\ 73.6 -70\\ 74.0 -100\\ 74.3 -150\\ 74.6 -300\\ 74.9 -600\\ 75.1 -750\\ 75.3 -870\\ 75.7 -700\\ 76.0 -600\\ 76.4 -510\\ 76.7 -450\\ 77.0 -500\\ 77.4 -400\\ 77.7 -360\\ 78.0 -300\\ 78.4 -250\\ 78.7 -200\\ 79.1 -220\\ 79.5 -150\\ 79.8 -180\\ 80.1 -120\\ 80.4 -145\\ 80.8 -100\\ 81.1 -110\\ 81.5 -150\\ 81.8 -80\\ 82.1 -100\\ 82.5 -70\\ 83.0 -60\\
}\tabAL

\pgfplotstableread[row sep=\\]{
t v\\
0 -212\\ 0.3 -310\\ 0.6 -572\\ 0.95 -703\\ 1.3 -638\\ 1.6 -768\\ 2.0 -1030\\ 2.3 -867\\ 2.65 -965\\ 3.0 -638\\ 3.3 -605\\ 3.7 -800\\ 4.0 -1290\\ 4.35 -1520\\ 4.5 -1684\\ 4.7 -1324\\ 5.0 -1030\\ 5.4 -638\\ 5.7 -180\\ 6.0 -140\\ 6.4 -147\\ 6.8 -245\\ 7.1 -605\\ 7.5 -310\\ 8.0 -280\\ 8.4 -245\\ 8.8 -150\\ 9.1 -49\\ 9.5 -20\\ 9.8 16\\ 10.2 -30\\ 10.5 -60\\ 11.1 -49\\ 11.5 -100\\ 11.8 -120\\ 12.2 -60\\ 12.5 -114\\ 12.9 -90\\ 13.2 -160\\ 13.6 -120\\ 13.9 -180\\ 14.2 -120\\ 14.5 -82\\ 14.9 -140\\ 15.2 -120\\ 15.6 -60\\ 15.9 -49\\ 16.3 -80\\ 16.6 -10\\ 17.2 -40\\ 17.9 16\\ 18.2 -10\\ 18.6 33\\ 19.0 0\\ 19.3 -10\\ 19.5 -245\\ 19.7 -703\\ 19.9 -400\\ 20.1 -260\\ 20.4 -60\\ 20.7 16\\ 21.3 25\\ 22 33\\ 22.7 25\\ 23.4 16\\ 23.8 -147\\ 24.1 -572\\ 24.3 -768\\ 24.7 -441\\ 25.0 -350\\ 25.4 -310\\ 25.7 -400\\ 26.1 -376\\ 26.5 -300\\ 26.8 -409\\ 27.1 -638\\ 27.5 -900\\ 27.8 -735\\ 28.1 -800\\ 28.5 -670\\ 28.8 -780\\ 29.1 -735\\ 29.5 -600\\ 29.8 -474\\ 30.2 -350\\ 30.5 -245\\ 30.9 -140\\ 31.2 -82\\ 31.6 -150\\ 31.9 -60\\ 32.2 -49\\ 32.6 -120\\ 32.9 -40\\ 33.3 -90\\ 33.6 -16\\ 34.0 -80\\ 34.3 -40\\ 34.7 -120\\ 35 -180\\ 35.4 -90\\ 35.7 -130\\ 36.0 -60\\ 36.3 -49\\ 36.7 -100\\ 37.0 -30\\ 37.3 -80\\ 37.6 -16\\ 38.0 -90\\ 38.3 -60\\ 38.6 -150\\ 39 -212\\ 39.4 -150\\ 39.7 -100\\ 40.0 -160\\ 40.3 -82\\ 40.7 -120\\ 41.0 -200\\ 41.4 -180\\ 41.7 -147\\ 42.1 -90\\ 42.4 -150\\ 42.7 -200\\ 43.1 -114\\ 43.4 -160\\ 43.8 -212\\ 44.1 -130\\ 44.5 -60\\ 44.8 -30\\ 45.1 -16\\ 45.5 0\\ 45.8 10\\ 46.2 5\\ 46.5 16\\ 46.9 10\\ 47.2 -10\\ 47.5 -5\\ 47.8 -16\\ 48.2 -60\\ 48.5 -100\\ 48.9 -80\\ 49.2 -147\\ 49.5 -200\\ 49.8 -180\\ 50.2 -310\\ 50.5 -572\\ 50.8 -400\\ 51.2 -376\\ 51.5 -450\\ 51.9 -441\\ 52.2 -380\\ 52.6 -343\\ 52.9 -420\\ 53.3 -474\\ 53.6 -605\\ 54 -507\\ 54.3 -400\\ 54.6 -310\\ 54.9 -280\\ 55.3 -245\\ 55.6 -180\\ 56 -114\\ 56.3 -150\\ 56.7 -70\\ 57.0 -120\\ 57.3 -49\\ 57.6 -100\\ 58.0 -60\\ 58.3 -140\\ 58.7 -180\\ 59.0 -100\\ 59.4 -60\\ 59.7 -130\\ 60.1 -82\\ 60.4 -150\\ 60.8 -100\\ 61.1 -170\\ 61.4 -147\\ 61.8 -80\\ 62.1 -120\\ 62.5 -40\\ 62.8 -49\\ 63.2 -100\\ 63.5 -30\\ 63.8 -60\\ 64.1 -16\\ 64.5 -40\\ 64.8 0\\ 65.2 -20\\ 65.5 16\\ 65.9 0\\ 66.2 10\\ 66.6 -10\\ 66.9 5\\ 67.2 -20\\ 67.5 -16\\ 67.9 0\\ 68.2 -10\\ 68.6 5\\ 68.9 16\\ 69.2 -20\\ 69.6 -60\\ 69.9 -80\\ 70.2 -114\\ 70.6 -60\\ 70.9 -49\\ 71.3 -90\\ 71.6 -147\\ 71.9 -474\\ 72.2 -600\\ 72.4 -703\\ 72.7 -450\\ 72.9 -310\\ 73.1 -180\\ 73.3 -114\\ 73.7 -150\\ 74 -180\\ 74.4 -300\\ 74.7 -474\\ 74.9 -700\\ 75.2 -965\\ 75.4 -800\\ 75.7 -735\\ 76.0 -650\\ 76.4 -605\\ 76.7 -450\\ 77.1 -343\\ 77.4 -260\\ 77.7 -212\\ 78.1 -280\\ 78.4 -245\\ 78.8 -200\\ 79.1 -147\\ 79.5 -120\\ 79.8 -60\\ 80.1 -80\\ 80.4 -16\\ 80.8 -40\\ 81.1 -16\\ 81.5 -60\\ 81.8 -49\\ 82.1 -120\\ 82.5 -180\\ 82.8 -150\\
}\tabIL

\pgfplotstableread[row sep=\\]{
t v\\
0 0.37\\ 0.27 0.64\\ 0.45 0.3\\ 0.6 0.28\\ 0.8 0.22\\ 1.0 0.2\\ 1.15 0.35\\ 1.3 0.46\\ 1.45 0.25\\ 1.6 0.24\\ 1.8 0.3\\ 2.0 0.35\\ 2.15 0.2\\ 2.3 0.37\\ 2.5 0.3\\ 2.65 0.25\\ 2.8 0.4\\ 3.0 0.28\\ 3.15 0.35\\ 3.3 0.46\\ 3.45 0.42\\ 3.55 0.4\\ 3.65 2.68\\ 3.75 0.5\\ 3.9 0.45\\ 4.1 0.5\\ 4.3 0.55\\ 4.5 0.4\\ 4.7 0.33\\ 4.85 0.38\\ 5.0 0.28\\ 5.2 0.15\\ 5.5 0.07\\ 5.8 0.06\\ 6.1 0.18\\ 6.4 0.15\\ 6.7 0.08\\ 7.1 0.2\\ 7.4 0.1\\ 7.8 0.09\\ 8.1 0.05\\ 8.5 0.05\\ 8.8 0.09\\ 9.1 0.07\\ 9.5 0.04\\ 9.8 0.06\\ 10.2 0.03\\ 10.5 0.11\\ 10.8 0.06\\ 11.1 0.1\\ 11.5 0.05\\ 11.8 0.12\\ 12.2 0.15\\ 12.5 0.2\\ 12.8 0.1\\ 13.2 0.28\\ 13.5 0.12\\ 13.9 0.18\\ 14.2 0.08\\ 14.5 0.1\\ 14.9 0.12\\ 15.2 0.2\\ 15.5 0.25\\ 15.9 0.33\\ 16.2 0.2\\ 16.6 0.15\\ 16.9 0.08\\ 17.2 0.06\\ 17.6 0.1\\ 17.9 0.06\\ 18.2 0.08\\ 18.6 0.12\\ 18.9 0.2\\ 19.1 0.35\\ 19.3 0.86\\ 19.5 0.4\\ 19.8 0.3\\ 20.0 0.25\\ 20.3 0.46\\ 20.5 0.2\\ 20.7 0.2\\ 21.0 0.15\\ 21.4 0.28\\ 21.7 0.12\\ 22.0 0.37\\ 22.3 0.2\\ 22.7 0.15\\ 23.0 0.2\\ 23.4 0.42\\ 23.7 0.15\\ 24.0 0.2\\ 24.4 0.12\\ 24.7 0.18\\ 25.0 0.12\\ 25.4 0.15\\ 25.7 0.3\\ 26.1 0.33\\ 26.4 0.4\\ 26.7 0.55\\ 26.9 0.35\\ 27.1 0.24\\ 27.4 0.15\\ 27.8 0.11\\ 28.1 0.08\\ 28.5 0.12\\ 28.8 0.09\\ 29.1 0.06\\ 29.5 0.05\\ 29.8 0.08\\ 30.2 0.11\\ 30.5 0.02\\ 30.8 0.1\\ 31.2 0.24\\ 31.5 0.12\\ 31.9 0.18\\ 32.2 0.11\\ 32.6 0.07\\ 32.9 0.1\\ 33.3 0.2\\ 33.6 0.37\\ 33.8 0.55\\ 34.0 0.15\\ 34.2 0.11\\ 34.6 0.2\\ 34.9 0.1\\ 35.2 0.28\\ 35.6 0.33\\ 35.9 0.15\\ 36.3 0.15\\ 36.6 0.22\\ 37.0 0.24\\ 37.4 0.12\\ 37.6 1.51\\ 37.75 0.15\\ 38.2 0.11\\ 38.5 0.2\\ 38.8 0.12\\ 39.0 0.15\\ 39.3 0.25\\ 39.7 0.1\\ 40.0 0.28\\ 40.3 0.15\\ 40.7 0.24\\ 41.0 0.1\\ 41.4 0.12\\ 41.7 0.15\\ 42.0 0.2\\ 42.4 0.15\\ 42.7 0.28\\ 43.1 0.1\\ 43.4 0.08\\ 43.8 0.11\\ 44.1 0.06\\ 44.5 0.08\\ 44.8 0.12\\ 45.1 0.11\\ 45.5 0.15\\ 45.8 0.2\\ 46.2 0.12\\ 46.5 0.2\\ 46.8 0.25\\ 47.1 0.15\\ 47.5 0.28\\ 47.8 0.24\\ 48.2 0.2\\ 48.5 0.3\\ 48.9 0.25\\ 49.2 0.37\\ 49.5 0.25\\ 49.8 0.5\\ 50.1 0.35\\ 50.35 0.94\\ 50.55 0.3\\ 50.8 0.2\\ 51.2 0.12\\ 51.5 0.15\\ 51.9 0.09\\ 52.2 0.06\\ 52.6 0.1\\ 52.9 0.08\\ 53.3 0.07\\ 53.6 0.15\\ 53.9 0.24\\ 54.2 0.12\\ 54.6 0.07\\ 54.9 0.05\\ 55.3 0.04\\ 55.6 0.06\\ 56.0 0.04\\ 56.3 0.05\\ 56.7 0.08\\ 57.0 0.04\\ 57.3 0.07\\ 57.7 0.1\\ 58.0 0.06\\ 58.4 0.15\\ 58.7 0.24\\ 59.0 0.28\\ 59.3 0.12\\ 59.7 0.1\\ 60.1 0.15\\ 60.4 0.1\\ 60.8 0.12\\ 61.1 0.08\\ 61.4 0.11\\ 61.8 0.14\\ 62.1 0.1\\ 62.4 0.12\\ 62.8 0.09\\ 63.1 0.1\\ 63.5 0.08\\ 63.8 0.13\\ 64.1 0.11\\ 64.5 0.09\\ 64.8 0.15\\ 65.2 0.2\\ 65.5 0.28\\ 65.8 0.55\\ 66.0 0.3\\ 66.3 0.2\\ 66.6 0.15\\ 67.0 0.1\\ 67.3 0.06\\ 67.6 0.07\\ 68.0 0.08\\ 68.3 0.05\\ 68.6 0.09\\ 68.9 0.07\\ 69.3 0.1\\ 69.6 0.12\\ 70.0 0.15\\ 70.3 0.11\\ 70.6 0.18\\ 70.9 0.2\\ 71.3 0.15\\ 71.6 0.24\\ 71.9 0.12\\ 72.3 0.09\\ 72.6 0.05\\ 72.9 0.08\\ 73.3 0.06\\ 73.6 0.07\\ 73.9 0.2\\ 74.2 0.4\\ 74.6 0.99\\ 74.75 0.6\\ 74.9 0.55\\ 75.1 0.45\\ 75.4 0.2\\ 75.7 0.11\\ 76.0 0.08\\ 76.4 0.1\\ 76.7 0.2\\ 76.85 0.46\\ 77.0 0.1\\ 77.4 0.07\\ 77.7 0.09\\ 78.1 0.06\\ 78.4 0.09\\ 78.7 0.12\\ 79.1 0.08\\ 79.4 0.1\\ 79.8 0.11\\ 80.1 0.07\\ 80.4 0.09\\ 80.8 0.06\\ 81.1 0.07\\ 81.5 0.08\\ 81.8 0.05\\ 82.1 0.06\\ 82.5 0.04\\ 82.8 0.03\\
}\tabWp

\pgfplotstableread[row sep=\\]{
t v\\
0 -164\\ 1.0 -174\\ 1.6 -193\\ 2.3 -207\\ 2.85 -221\\ 3.3 -212\\ 4.35 -193\\ 5.7 -164\\ 7.1 -140\\ 8.4 -126\\ 9.8 -117\\ 11.1 -110\\ 12.5 -102\\ 13.9 -93\\ 15.2 -83\\ 16.6 -76\\ 17.9 -73\\ 19.3 -74\\ 20.7 -69\\ 21.7 -64\\ 22.7 -74\\ 24.1 -79\\ 25.4 -80\\ 26.8 -79\\ 27.8 -78\\ 28.8 -86\\ 29.5 -81\\ 30.8 -69\\ 32.2 -69\\ 33.6 -64\\ 35 -60\\ 36.3 -57\\ 37.6 -59\\ 39 -62\\ 41 -64\\ 42.4 -69\\ 43.8 -62\\ 45.1 -57\\ 46.5 -55\\ 49.2 -55\\ 51.2 -50\\ 52.6 -57\\ 53.6 -64\\ 54.6 -60\\ 56 -52\\ 57.3 -50\\ 58.7 -50\\ 60.1 -55\\ 61.4 -48\\ 62.8 -45\\ 64.1 -50\\ 65.5 -43\\ 66.9 -38\\ 68.9 -43\\ 70.9 -50\\ 72.3 -48\\ 73.6 -43\\ 74.7 -38\\ 75.7 -45\\ 77.1 -50\\ 78.4 -50\\ 79.8 -45\\ 81.1 -36\\ 82.1 -31\\ 83 -31\\
}\tabDst

\pgfplotsset{
  panel/.style={
    scale only axis, width=264.5pt, anchor=south west,
    xmin=0, xmax=83,
    xtick={5,11,17,23,29,35,41,47,53,59,65,71,77},
    xticklabels={},
    tick align=inside, xtick pos=both, ytick pos=both,
    major tick length=2.3pt,
    tick style={gray!70, line width=0.5pt},
    axis line style={gray!55, line width=1pt},
    yticklabel style={font=\bfseries\fontsize{7.5}{8}\selectfont, inner sep=0.8pt},
    ylabel style={font=\ylabfont\bfseries\fontsize{9.5}{10}\selectfont, inner sep=1pt},
    legend cell align=left,
    legend style={draw=gray!55, line width=0.9pt, anchor=west,
      font=\fontsize{9.5}{10}\selectfont, inner xsep=1.5pt, inner ysep=2pt,
      row sep=3pt, nodes={inner sep=0.6pt}},
    legend image code/.code={\draw[#1, line width=1pt] (0pt,0pt) -- (9pt,0pt);},
    every axis plot/.append style={line width=0.65pt, line join=round},
  },
  dotv/.style={black, line width=0.9pt, dash pattern=on 0.7pt off 0.8pt},
}

\begin{document}
\begin{tikzpicture}
\useasboundingbox (0,0) rectangle (336.25pt,646.75pt);

% Panel 1
\begin{axis}[panel, at={(32.5pt,571pt)}, height=58pt,
  ymin=-20, ymax=12, ytick={-15,-10,-5,0,5,10}, yticklabels={-15,-10,-5,0,5,10},
  ylabel={nT\hspace{0.4em}(GSM)}, legend style={at={(1.018,0.547)}, row sep=7pt, inner ysep=4pt}]
\addplot[black] table[x=t,y=bx]{\tabA};
\addplot[red] table[x=t,y=by]{\tabA};
\addplot[black, dashed, line width=0.6pt, forget plot] coordinates {(0,0) (83,0)};
\legend{B\lsub{x}, B\lsub{y}}
\end{axis}

% Panel 2
\begin{axis}[panel, at={(32.5pt,501.25pt)}, height=58.75pt,
  ymin=-25, ymax=25, ytick={-20,0,20}, yticklabels={-20,0,20},
  ylabel={nT\hspace{0.4em}(GSM)}, legend style={at={(1.011,0.55)}, row sep=7pt, inner ysep=4pt}]
\addplot[black!85] table[x=t,y=v]{\tabBt};
\addplot[red] table[x=t,y=v]{\tabBz};
\addplot[black, dashed, line width=0.6pt, forget plot] coordinates {(0,0) (83,0)};
\legend{B\lsub{total}, B\lsub{z}}
\end{axis}

% Panel 3
\begin{axis}[panel, at={(32.5pt,432.25pt)}, height=58.25pt,
  ymin=-725, ymax=-498, ytick={-700,-600,-500}, yticklabels={-700,-600,-500},
  ylabel={km/s\hspace{0.4em}(GSE)}, legend style={at={(1.027,0.566)}, inner ysep=7pt}]
\addplot[black] table[x=t,y=v]{\tabV};
\legend{v\lsub{x}}
\end{axis}

% Panel 4
\begin{axis}[panel, at={(32.5pt,359.25pt)}, height=58.25pt,
  ymin=0, ymax=16, ytick={0,5,10,15}, yticklabels={0,5,10,15},
  ylabel={n/cc}, legend style={at={(1.016,0.52)}, inner ysep=4.5pt}]
\addplot[black] table[x=t,y=v]{\tabN};
\legend{N\lsub{sw}}
\end{axis}

% Panel 5
\begin{axis}[panel, at={(32.5pt,290.5pt)}, height=49.5pt,
  ymin=0, ymax=4, ytick={0,2,4}, yticklabels={0,2,4},
  ylabel={10\textsuperscript{5} K}, legend style={at={(1.018,0.53)}}]
\addplot[black] table[x=t,y=v]{\tabT};
\legend{T}
\end{axis}

% Panel 6
\begin{axis}[panel, at={(32.5pt,218.25pt)}, height=58.25pt,
  ymin=-2540, ymax=2560, ytick={-2000,-1000,0,1000,2000},
  yticklabels={{-2,000},{-1000},{},{1000},{2,000}},
  ylabel={nT}, legend style={at={(1.014,0.52)}}]
\addplot[black] table[x=t,y=v]{\tabAE};
\addplot[red] table[x=t,y=v]{\tabAL};
\legend{AE, AL}
\end{axis}

% Panel 7
\begin{axis}[panel, at={(32.5pt,156.75pt)}, height=49pt,
  ymin=-1710, ymax=205, ytick={-1500,-1000,-500,0}, yticklabels={-1500,-1000,-500,0},
  ylabel={nT}, legend style={at={(1.018,0.52)}}]
\addplot[black] table[x=t,y=v]{\tabIL};
\legend{IL}
\end{axis}

% Panel 8
\begin{axis}[panel, at={(32.5pt,77pt)}, height=58pt,
  ymin=0, ymax=3, ytick={0,1,2,3}, yticklabels={0,1,2,3},
  ylabel={nT}, legend style={at={(1.002,0.54)}}]
\addplot[black] table[x=t,y=v]{\tabWp};
\legend{Wp}
\end{axis}

% Panel 9
\begin{axis}[panel, at={(32.5pt,21.75pt)}, height=44.5pt,
  ymin=-250, ymax=0, ytick={-200,-100,0}, yticklabels={-200,-100,0},
  xtick={0,5,11,17,23,29,35,41,47,53,59,65,71,77,83},
  xticklabels={19,00,06,12,18,00,06,12,18,00,06,12,18,00,05},
  xticklabel style={font=\bfseries\fontsize{8.5}{9}\selectfont, inner sep=1pt},
  xlabel={Time (hh)}, xlabel style={font=\bfseries\fontsize{8.5}{9}\selectfont, inner sep=1pt},
  ylabel={nT}, legend style={at={(1.008,0.48)}}]
\addplot[black!70, line width=0.8pt] table[x=t,y=v]{\tabDst};
\legend{Dst}
\end{axis}

% Overlay: dotted event lines and labels
\begin{axis}[scale only axis, width=264.5pt, height=646.75pt, at={(32.5pt,0pt)}, anchor=south west,
  xmin=0, xmax=83, ymin=0, ymax=2587, y dir=reverse, hide axis, clip=false]
\addplot[dotv] coordinates {(3.0,77) (3.0,2497)};
\addplot[dotv] coordinates {(5.8,67) (5.8,2508)};
\addplot[dotv] coordinates {(27.2,70) (27.2,2510)};
\addplot[dotv] coordinates {(30.5,77) (30.5,2490)};
\addplot[dotv] coordinates {(53.5,85) (53.5,2503)};
\addplot[dotv] coordinates {(55.6,85) (55.6,2500)};
\addplot[dotv] coordinates {(71.7,73) (71.7,2493)};
\addplot[dotv] coordinates {(73.5,77) (73.5,2497)};
\addplot[dotv] coordinates {(74.8,73) (74.8,2502)};
\addplot[dotv] coordinates {(77.7,68) (77.7,2508)};
\node[font=\fontsize{10}{10}\selectfont] at (axis cs:3.9,28) {1};
\node[font=\fontsize{10}{10}\selectfont] at (axis cs:29.1,22) {2};
\node[font=\fontsize{10}{10}\selectfont] at (axis cs:54.5,28) {3};
\node[font=\fontsize{10}{10}\selectfont] at (axis cs:73.3,33) {4};
\node[font=\fontsize{10}{10}\selectfont] at (axis cs:76.4,33) {5};
\end{axis}
\end{tikzpicture}
\end{document}
